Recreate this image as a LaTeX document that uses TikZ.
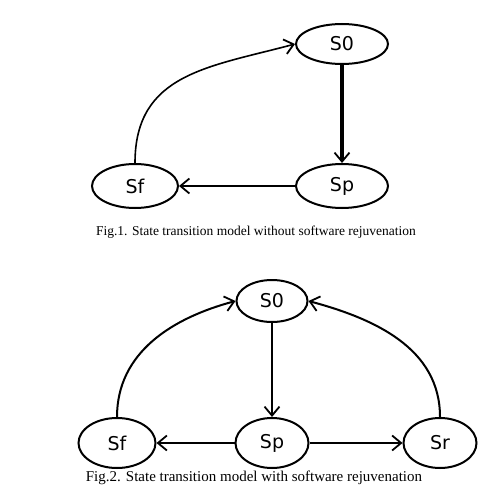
\documentclass[tikz,border=0pt]{standalone}
\usepackage{fontspec}
\setmainfont{Liberation Serif}
\newfontfamily\labelfont{DejaVu Sans}
\usetikzlibrary{positioning,arrows.meta,shapes.geometric}

\begin{document}
\begin{tikzpicture}[x=1pt, y=-1pt,
    stnode/.style={ellipse, draw, line width=2pt, inner sep=0pt, font=\labelfont\fontsize{19}{19}\selectfont},
    bigstate/.style={stnode, minimum width=92pt, minimum height=44pt},
    smallstate/.style={stnode, minimum width=73pt, minimum height=48pt},
    barb/.style={-{Straight Barb[length=9pt, width=15pt, line width=1.8pt]}},
    caption/.style={font=\fontsize{13.5}{15}\selectfont}]
    \useasboundingbox (0,0) rectangle (500,500);
    % Fig. 1
    \node (oneS0) [bigstate, minimum height=40pt] at (342,44) {S0};
    \node (oneSp) [bigstate, below=98pt of oneS0] {Sp};
    \node (oneSf) [bigstate, minimum width=86pt, left=116pt of oneSp] {Sf};
    \draw[barb, line width=4pt] (oneS0) -- (oneSp);
    \draw[barb, line width=2.8pt] (oneSp) -- (oneSf);
    \draw[barb, line width=1.6pt] (oneSf.north) to[out=90, in=195, looseness=1.15] (oneS0.west);
    \node (capOne) [caption] at (256,232) {Fig.1. State transition model without software rejuvenation};
    % Fig. 2
    \node (twoS0) [smallstate, minimum width=71pt, minimum height=42pt] at (272,301) {S0};
    \node (twoSp) [smallstate, minimum height=50pt] at (272,443) {Sp};
    \node (twoSf) [smallstate, minimum width=77pt, minimum height=50pt] at (117,443) {Sf};
    \node (twoSr) [smallstate, minimum height=50pt] at (440,443) {Sr};
    \draw[barb, line width=2pt] (twoS0) -- (twoSp);
    \draw[barb, line width=2.8pt] (twoSp) -- (twoSf);
    \draw[barb, line width=2.8pt] (twoSp) -- (twoSr);
    \draw[barb, line width=2pt] (twoSf.north) to[out=90, in=195] (twoS0.west);
    \draw[barb, line width=2pt] (twoSr.north) to[out=90, in=-15] (twoS0.east);
    \node (capTwo) [caption, font=\fontsize{15}{16}\selectfont] at (254,478) {Fig.2. State transition model with software rejuvenation};
\end{tikzpicture}
\end{document}
